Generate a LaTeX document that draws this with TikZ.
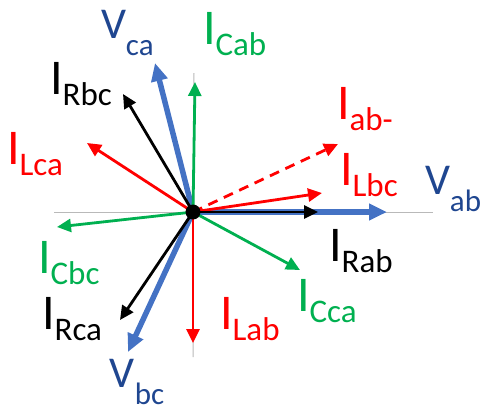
\documentclass[tikz,border=0pt]{standalone}
\usepackage{fontspec}
\setmainfont{Carlito}
\usepackage{xcolor}
\usepackage{tikz}
\usetikzlibrary{arrows.meta,positioning,calc}

\definecolor{vblue}{HTML}{4472C4}
\definecolor{vnavy}{HTML}{1F4690}
\definecolor{cgreen}{HTML}{00B050}
\definecolor{lred}{HTML}{FF0000}

\newcommand{\Ilbl}[1]{{\fontsize{50}{50}\selectfont I}\raisebox{-11pt}{\fontsize{33}{33}\selectfont #1}}
\newcommand{\Vlbl}[1]{{\fontsize{44}{44}\selectfont V}\raisebox{-17pt}{\fontsize{31}{31}\selectfont #1}}

\begin{document}
\begin{tikzpicture}[x=1pt, y=-1pt,
    vec/.style={line width=2.8pt, -{Triangle[length=14pt,width=13pt]}},
    volt/.style={vblue, line width=5.5pt, -{Triangle[length=18pt,width=16pt]}},
    lbl/.style={inner sep=0pt, outer sep=0pt, anchor=base west}]
    \useasboundingbox (0,0) rectangle (483,413);
    \coordinate (o) at (193,212);
    % axes
    \coordinate (axl) at (54,212);
    \coordinate (axr) at (433,212);
    \coordinate (axt) at (194,73);
    \coordinate (axb) at (193,357);
    \draw[gray!55, line width=1pt] (axl) -- (axr);
    \draw[gray!55, line width=1pt] (axt) -- (axb);
    % tips
    \coordinate (vab) at (387,212);
    \coordinate (vca) at (155,63);
    \coordinate (vbc) at (128,352);
    \coordinate (irab) at (318,212);
    \coordinate (irbc) at (123,94);
    \coordinate (irca) at (120,320);
    \coordinate (ilab) at (193,343);
    \coordinate (ilbc) at (322,193);
    \coordinate (ilca) at (87,143);
    \coordinate (icab) at (195,82);
    \coordinate (icbc) at (57,227);
    \coordinate (icca) at (300,270);
    \coordinate (iabm) at (338,144);
    % voltages
    \draw[volt] (o) -- (vab);
    \draw[volt] (o) -- (vca);
    \draw[volt] (o) -- (vbc);
    % currents
    \draw[vec, cgreen] (o) -- (icab);
    \draw[vec, cgreen] (o) -- (icbc);
    \draw[vec, cgreen] (o) -- (icca);
    \draw[vec, lred] (o) -- (ilab);
    \draw[vec, lred] (o) -- (ilbc);
    \draw[vec, lred] (o) -- (ilca);
    \draw[vec, lred, dash pattern=on 10pt off 7pt] (o) -- (iabm);
    \draw[vec, black] (o) -- (irab);
    \draw[vec, black] (o) -- (irbc);
    \draw[vec, black] (o) -- (irca);
    \node[circle, fill=black, minimum size=15pt, inner sep=0pt] (dot) at (o) {};
    % labels
    \node[lbl, vnavy] (lvca) at (101,38) {\Vlbl{ca}};
    \node[lbl, vnavy] (lvab) at (425,194) {\Vlbl{ab}};
    \node[lbl, vnavy] (lvbc) at (110,387) {\Vlbl{bc}};
    \node[lbl, cgreen] (licab) at (203,44) {\Ilbl{Cab}};
    \node[lbl, cgreen] (licbc) at (38,273) {\Ilbl{Cbc}};
    \node[lbl, cgreen] (licca) at (297,311) {\Ilbl{Cca}};
    \node[lbl, lred] (liab) at (337,119) {\Ilbl{ab-}};
    \node[lbl, lred] (lilbc) at (340,185) {\Ilbl{Lbc}};
    \node[lbl, lred] (lilca) at (7,164) {\Ilbl{Lca}};
    \node[lbl, lred] (lilab) at (220,329) {\Ilbl{Lab}};
    \node[lbl, black] (lirbc) at (50,94) {\Ilbl{Rbc}};
    \node[lbl, black] (lirab) at (329,261) {\Ilbl{Rab}};
    \node[lbl, black] (lirca) at (42,329) {\Ilbl{Rca}};
\end{tikzpicture}
\end{document}
